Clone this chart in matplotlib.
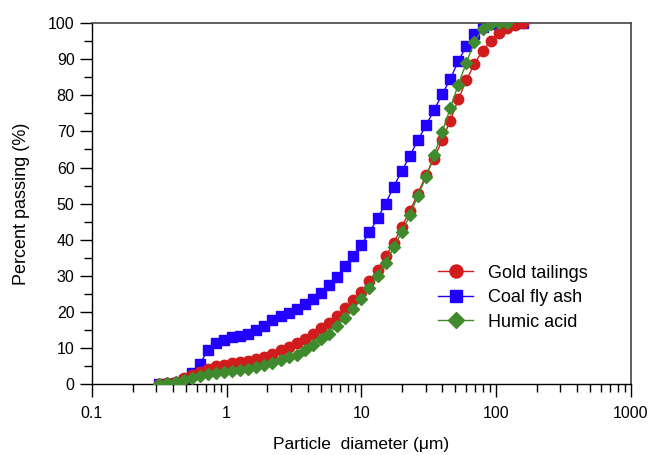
import matplotlib
matplotlib.use("Agg")
import matplotlib.pyplot as plt
from matplotlib.ticker import FixedLocator, FixedFormatter, LogLocator, NullFormatter, MultipleLocator

# particle sizes (um), shared by the three samples
diam = [0.316, 0.363, 0.417, 0.479, 0.550, 0.631, 0.724, 0.832, 0.955, 1.096,
        1.259, 1.445, 1.660, 1.905, 2.188, 2.512, 2.884, 3.311, 3.802, 4.365,
        5.012, 5.754, 6.607, 7.586, 8.710, 10.00, 11.48, 13.18, 15.14, 17.38,
        19.95, 22.91, 26.30, 30.20, 34.67, 39.81, 45.71, 52.48, 60.26, 69.18,
        79.43, 91.20, 104.7, 120.2, 138.0, 158.5]

gold = [0.0, 0.2, 0.6, 1.6, 2.5, 3.4, 4.2, 4.9, 5.4, 5.7,
        6.0, 6.4, 6.8, 7.6, 8.3, 9.4, 10.3, 11.4, 12.5, 13.9,
        15.4, 17.0, 18.8, 21.0, 23.3, 25.6, 28.5, 31.7, 35.4, 39.0,
        43.6, 47.9, 52.8, 57.9, 62.5, 67.6, 73.0, 78.9, 84.2, 88.8,
        92.3, 95.1, 97.3, 98.8, 99.6, 100.0]

coal = [0.0, 0.0, 0.3, 1.1, 3.1, 5.6, 9.3, 11.3, 12.3, 13.0,
        13.4, 14.0, 15.0, 16.2, 17.7, 18.8, 19.8, 20.7, 22.1, 23.5,
        25.3, 27.4, 29.7, 32.6, 35.5, 38.6, 42.0, 45.9, 50.0, 54.7,
        59.0, 63.2, 67.6, 71.7, 75.9, 80.3, 84.5, 89.5, 93.7, 97.0,
        99.0, 99.7, 100.0, 100.0, 100.0, 100.0]

humic = [0.0, 0.2, 0.5, 1.0, 1.7, 2.2, 2.7, 3.1, 3.4, 3.6,
         3.9, 4.3, 4.8, 5.3, 5.9, 6.6, 7.4, 8.0, 9.4, 10.8,
         12.4, 14.0, 16.1, 18.2, 20.7, 23.5, 26.5, 30.0, 33.6, 37.9,
         42.0, 46.8, 52.1, 57.4, 63.4, 69.9, 76.4, 83.0, 89.1, 94.8,
         98.5, 99.7, 100.0, 100.0]

labels = ["Gold tailings", "Coal fly ash", "Humic acid"]

plt.rcParams['font.family'] = ['Liberation Sans', 'DejaVu Sans']

fig = plt.figure(figsize=(6.57, 4.55), dpi=100)
ax = fig.add_axes([0.140, 0.156, 0.820, 0.793])

ax.plot(diam, gold, color='#d01c1c', marker='o', markersize=7.5, lw=1.0,
        label=labels[0], zorder=3)
ax.plot(diam, coal, color='#2200ff', marker='s', markersize=6.5, lw=1.0,
        label=labels[1], zorder=2)
ax.plot(diam[:len(humic)], humic, color='#3f8a2c', marker='D', markersize=6.2, lw=1.0,
        label=labels[2], zorder=4)

ax.set_xscale('log')
ax.set_xlim(0.1, 1000)
ax.set_ylim(0, 100)

ax.xaxis.set_major_locator(FixedLocator([0.1, 1, 10, 100, 1000]))
ax.xaxis.set_major_formatter(FixedFormatter(["0.1", "1", "10", "100", "1000"]))
ax.xaxis.set_minor_locator(LogLocator(base=10, subs=range(2, 10)))
ax.xaxis.set_minor_formatter(NullFormatter())
ax.yaxis.set_major_locator(MultipleLocator(10))
ax.yaxis.set_minor_locator(MultipleLocator(5))

ax.tick_params(which='major', direction='out', length=9, width=1, labelsize=11.5, pad=3.5)
ax.tick_params(which='minor', direction='out', length=5.5, width=1)
ax.tick_params(axis='x', which='major', pad=7)

for s in ['left', 'bottom']:
    ax.spines[s].set_color('black')
    ax.spines[s].set_linewidth(1.0)
for s in ['top', 'right']:
    ax.spines[s].set_color('#444444')
    ax.spines[s].set_linewidth(1.2)

ax.set_xlabel("Particle  diameter (\u03bcm)", fontsize=12.5, labelpad=11)
ax.set_ylabel("Percent passing (%)", fontsize=13, labelpad=13)

ax.legend(loc='upper left', bbox_to_anchor=(0.629, 0.351), frameon=False,
          fontsize=13, handlelength=1.95, handletextpad=0.8, labelspacing=0.42,
          borderaxespad=0, markerscale=1.25)

fig.savefig("out.png", dpi=100)
